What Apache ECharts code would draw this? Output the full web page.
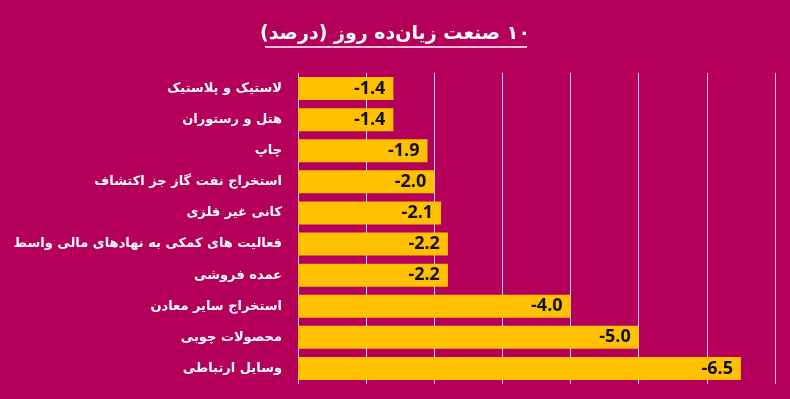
<!DOCTYPE html>
<html>
<head>
<meta charset="utf-8">
<script src="https://cdn.jsdelivr.net/npm/echarts@6/dist/echarts.min.js"></script>
<style>
  html, body { margin: 0; padding: 0; background: #b4005a; }
  #chart { width: 790px; height: 399px; }
</style>
</head>
<body>
<div id="chart"></div>
<script>
// RLM در دو طرف تا عدد ۱۰ سمت راست بنشیند
const TITLE = '\u200F۱۰ صنعت زیان‌ده روز (درصد)\u200F'

const industries = [
  'لاستیک و پلاستیک',
  'هتل و رستوران',
  'چاپ',
  'استخراج نفت گاز جز اکتشاف',
  'کانی غیر فلزی',
  'فعالیت های کمکی به نهادهای مالی واسط',
  'عمده فروشی',
  'استخراج سایر معادن',
  'محصولات چوبی',
  'وسایل ارتباطی',
]

const changes = [-1.4, -1.4, -1.9, -2.0, -2.1, -2.2, -2.2, -4.0, -5.0, -6.5]

const chart = echarts.init(document.getElementById('chart'), null, { renderer: 'canvas' })

chart.setOption({
  backgroundColor: '#b4005a',
  animation: false,
  title: {
    text: TITLE,
    left: 'center',
    top: 20,
    textStyle: {
      color: '#ffffff',
      fontSize: 19,
      fontWeight: 'bold',
      fontFamily: 'DejaVu Sans',
    },
  },
  // خط زیر عنوان
  graphic: [{
    type: 'line',
    shape: { x1: 265, y1: 47, x2: 527, y2: 47 },
    style: { stroke: '#ffffff', lineWidth: 1.5 },
  }],
  grid: { left: 298, right: 15, top: 73, bottom: 15 },
  xAxis: {
    type: 'value',
    min: -7,
    max: 0,
    interval: 1,
    inverse: true,
    axisLabel: { show: false },
    axisTick: { show: false },
    axisLine: { show: false },
    splitLine: { lineStyle: { color: '#f2c6dc', width: 1 } },
  },
  yAxis: {
    type: 'category',
    inverse: true,
    data: industries,
    axisTick: { show: false },
    axisLine: { show: false },
    axisLabel: {
      color: '#ffffff',
      fontSize: 13,
      fontWeight: 'bold',
      fontFamily: 'DejaVu Sans',
      margin: 16,
    },
  },
  series: [{
    type: 'bar',
    data: changes,
    barCategoryGap: '26%',
    itemStyle: { color: '#ffc000' },
    label: {
      show: true,
      position: 'insideRight',
      distance: 8,
      formatter: (p) => p.value.toFixed(1),
      color: '#111111',
      fontSize: 18,
      fontWeight: 'bold',
      fontFamily: 'Open Sans',
    },
  }],
})
</script>
</body>
</html>
